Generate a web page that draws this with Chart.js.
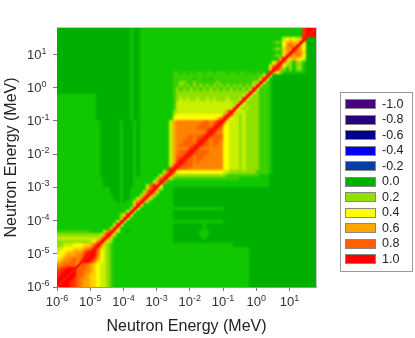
<!DOCTYPE html>
<html>
<head>
<meta charset="utf-8">
<style>
  html, body { margin: 0; padding: 0; background: #fff; }
  canvas { display: block; }
</style>
<script src="https://cdn.jsdelivr.net/npm/chart.js@4/dist/chart.umd.min.js"></script>
</head>
<body>
<canvas id="chart" width="415" height="338"></canvas>
<script>
const axisTitle = 'Neutron Energy (MeV)';
const tickExponents = [-6, -5, -4, -3, -2, -1, 0, 1];
const axisMin = 1e-6;
const axisMax = 63;

// the matrix diagonal, correlation 1 from end to end
const diagonalEnergies = [1e-6, 63];

const legendValues = ['-1.0', '-0.8', '-0.6', '-0.4', '-0.2', '0.0', '0.2', '0.4', '0.6', '0.8', '1.0'];
const legendColors = ['#48007f', '#24007f', '#00008f', '#0000f0', '#00409f', '#00b000', '#90e000', '#ffff00', '#ffa500', '#ff6000', '#ff0000'];

// colour ramp for the positive part of the matrix
const rampValues = [0, 0.05, 0.2, 0.4, 0.6, 0.8, 1];
const rampColors = [[0, 176, 0], [16, 200, 0], [144, 224, 0], [255, 255, 0], [255, 165, 0], [255, 96, 0], [255, 0, 0]];

// correlation, 10 cells per decade, top row first
// . = 0, - = 0.05, digit = tenths, X = 1.0
const cellsPerDecade = 10;
const cellCodes = { '.': 0, '-': 0.05, '1': 0.1, '2': 0.2, '3': 0.3, '4': 0.4, '5': 0.5, '6': 0.6, '7': 0.7, '8': 0.8, '9': 0.9, 'X': 1 };
const cellRows = [
  '.......... .......... ..-..----- ---------- ---------- ---------- ---------- ----9XXX',
  '.......... .......... ..-..----- ---------- ---------- ---------- ---------- ----9XXX',
  '.......... .......... ..-..----- ---------- ---------- ---------- ---------- ----9XXX',
  '.......... .......... ..-..----- ---------- ---------- ---------- --------34 5435X...',
  '.......... .......... ..-..----- ---------- ---------- ---------- -----12146 765X5...',
  '.......... .......... ..-..----- ---------- ---------- ---------- --------47 86X64...',
  '.......... .......... ..-..----- ---------- ---------- ---------- -----12157 6X864...',
  '.......... .......... ..-..----- ---------- ---------- ---------- --------55 X8775...',
  '.......... .......... ..-..----- ---------- ---------- ---------- -----1215X 86874...',
  '.......... .......... ..-..----- ---------- ---------- ---------- -------6X5 56543...',
  '.......... .......... ..-..----- ---------- ---------- ---------- -----47X73 2-22-...',
  '.......... .......... ..-..----- ---------- ---------- ---------- ----37X942 2-22-...',
  '.......... .......... ..-..----- ---------- ---------- ---------- ----5X972- 2-22-...',
  '.......... .......... ..-..----- -----11-1- 1-11-11-11 1-11-11-1- 1-1-X642-- -----...',
  '.......... .......... ..-..----- -----11111 1111111111 1111111111 113X3..... ........',
  '.......... .......... ..-..----- -----11111 1-11-1-111 1111111111 13X3-..... ........',
  '.......... .......... ..-..----- -----11221 1211111121 1111111112 3X31-..... ........',
  '.......... .......... ..-..----- -----11212 1212121212 1212121213 X311-..... ........',
  '.......... .......... ..-..----- -----12121 2121212121 212121213X 3111-..... ........',
  '.......... .......... ..-..----- -----12222 2222222222 22222223X3 2111-..... ........',
  '---------- --........ ..-..----- -----12222 2222222222 2222223X32 2111-..... ........',
  '---------- --........ ..-..----- -----12323 2232232322 232223X322 2111-..... ........',
  '---------- --........ ..-..----- -----13333 3333333333 33323X3222 2111-..... ........',
  '---------- --........ ..-..----- -----13333 3333333333 3333X33222 2111-..... ........',
  '---------- --........ ..-..----- -----13333 3333333333 333X332322 2111-..... ........',
  '---------- --........ ..-..----- -----23333 3333333333 37X6333222 2111-..... ........',
  '---------- --........ ..-..----- -----34444 4444444444 8X83323222 2111-..... ........',
  '---------- --........ ..-..----- -----44444 4444444458 X843323222 2111-..... ........',
  '---------- ---......- ...-.----- ----367777 777788789X 8433323222 2111-..... ........',
  '---------- ---......- ...-.----- ----367777 77788879X9 4433323222 2111-..... ........',
  '---------- ---......- ...-.----- ----367777 7788889X98 4433323222 2111-..... ........',
  '---------- ---......- ...-.----- ----367777 777779X977 4433323222 2111-..... ........',
  '---------- ---......- ...-.----- ----367777 87889X9888 4433323222 2111-..... ........',
  '---------- ---......- ...-.----- ----367778 8789X97888 4433323222 2111-..... ........',
  '---------- ---......- ...-.----- ----367788 879X987887 4433323222 2111-..... ........',
  '---------- ---......- ...-.----- ----367888 89X9887877 4433323222 2111-..... ........',
  '---------- ---......- ...-.----- ----367777 9X97777777 4433323222 2111-..... ........',
  '---------- ---......- ...-.----- ----367889 X988887777 4433323222 2111-..... ........',
  '---------- ---......- ...-.----- ----36889X 9788877777 4433323222 2111-..... ........',
  '---------- ---......- ...-.----- ----3689X9 8788777777 4433323222 2111-..... ........',
  '---------- ---......- ...-.----- ----369X98 8787777777 4433323222 2111-..... ........',
  '---------- ---......- ...-.----- ----39X988 8777777777 4433323222 2111-..... ........',
  '---------- ---......- ...-.----- ----9X9888 7777777777 4433323222 2111-..... ........',
  '---------- ---......- ...-.----- --38X84444 4444444444 3322222222 1111-..... ........',
  '---------- ---......- ...-.----- -38X832222 2222222222 2111111111 1---...... ........',
  '---------- ----.....- ...------- 38X8311111 1111111111 11111----- ----...... ........',
  '---------- ----.....- ...------3 7X71------ ---------- ---------- ----...... ........',
  '---------- ----.....- ...----38X 83-------- ---------- ---------- ----...... ........',
  '---------- ------...- ..-----38X 83---..... .......... .......... .......... ........',
  '---------- ------...- ..----38X8 3----..... .......... .......... .......... ........',
  '---------- -------..- ..---37X73 -----..... .......... .......... .......... ........',
  '---------- -------..- ..--37X73- -----..... .......... .......... .......... ........',
  '---------- --------.- .--37X73-- -----..... .......... .......... .......... ........',
  '---------- ---------- ---5X5---- -----..... .......... .......... .......... ........',
  '---------- ---------- --3X3----- ---------- ---------- .......... .......... ........',
  '---------- ---------- -3X3------ -----..... .......... .......... .......... ........',
  '---------- ---------2 5X5------- -----..... .......... .......... .......... ........',
  '---------- ---------3 X3-------- -----..... .......... .......... .......... ........',
  '---------- --------3X 3--------- ---------- ---------- .......... .......... ........',
  '---------- -------3X3 ---------- -----..... ....-..... .......... .......... ........',
  '---------- ------5X5- ---------- -----..... ....-..... .......... .......... ........',
  '1111111111 ----37X73- -.-------- -----..... ...---.... .......... .......... ........',
  '2222222222 22237X73-- ---------- -----..... ...---.... .......... .......... ........',
  '3333333333 3337X73--- ---------- -----..... ....-..... .......... .......... ........',
  '2222222222 347X732--- ---------- -----..... .......... .......... .......... ........',
  '2233344455 68X7321--- ---------- ---------- ---------- ---....... .......... ........',
  '3344455567 8X85321--- ---------- ---------- ---------- --------.. .......... ........',
  '3445566689 XX84321--- ---------- ---------- ---------- --------.. .......... ........',
  '445666779X XX74321--- ---------- ---------- ---------- --------.. .......... ........',
  '45677878XX X964321--- ---------- ---------- ---------- --------.. .......... ........',
  '56778879XX 9754321--- ---------- ---------- ---------- --------.. .......... ........',
  '7788887887 6543321--- ---------- ---------- ---------- --------.. .......... ........',
  '899XXX8887 6543321--- ---------- ---------- ---------- --------.. .......... ........',
  '99XXXX8877 6543321--- ---------- ---------- ---------- --------.. .......... ........',
  '9XXXXX8876 5543321--- ---------- ---------- ---------- --------.. .......... ........',
  'XXXXX98776 5543321--- ---------- ---------- ---------- --------.. .......... ........',
  'XXXX998766 5543321--- ---------- ---------- ---------- --------.. .......... ........',
  'XXXX998766 5543321--- ---------- ---------- ---------- --------.. .......... ........'
];

function rampColor(v) {
  let i = 0;
  while (i < rampValues.length - 2 && v > rampValues[i + 1]) i++;
  const t = (v - rampValues[i]) / (rampValues[i + 1] - rampValues[i]);
  const c = rampColors[i].map((a, k) => Math.round(a + (rampColors[i + 1][k] - a) * t));
  return `rgb(${c[0]},${c[1]},${c[2]})`;
}

// one point per cell, at the lower left corner of the cell
const cells = [];
cellRows.forEach((row, r) => {
  const chars = row.replace(/ /g, '');
  const rowIndex = cellRows.length - 1 - r;
  for (let c = 0; c < chars.length; c++) {
    cells.push({
      x: 10 ** (c / cellsPerDecade - 6),
      y: 10 ** (rowIndex / cellsPerDecade - 6),
      x2: 10 ** ((c + 1) / cellsPerDecade - 6),
      y2: 10 ** ((rowIndex + 1) / cellsPerDecade - 6),
      v: cellCodes[chars[c]]
    });
  }
});

const heatmapPlugin = {
  id: 'heatmap',
  beforeDatasetsDraw(chart) {
    const { ctx, chartArea: area, scales } = chart;
    const off = document.createElement('canvas');
    off.width = chart.width;
    off.height = chart.height;
    const g = off.getContext('2d');
    chart.data.datasets[0].data.forEach(p => {
      const x0 = Math.floor(scales.x.getPixelForValue(p.x));
      const x1 = Math.ceil(scales.x.getPixelForValue(p.x2));
      const y0 = Math.floor(scales.y.getPixelForValue(p.y2));
      const y1 = Math.ceil(scales.y.getPixelForValue(p.y));
      g.fillStyle = rampColor(p.v);
      g.fillRect(x0, y0, x1 - x0, y1 - y0);
    });
    ctx.save();
    ctx.beginPath();
    ctx.rect(area.left, area.top, area.right - area.left, area.bottom - area.top);
    ctx.clip();
    ctx.drawImage(off, 0, 0);
    ctx.filter = 'blur(1px)'; // the reference is a soft, upscaled raster
    ctx.drawImage(off, 0, 0);
    ctx.restore();
    // thin pale frame on the open sides
    ctx.save();
    ctx.strokeStyle = '#c8c8c8';
    ctx.lineWidth = 1;
    ctx.beginPath();
    ctx.moveTo(area.left, area.top - 0.5);
    ctx.lineTo(area.right + 0.5, area.top - 0.5);
    ctx.lineTo(area.right + 0.5, area.bottom);
    ctx.stroke();
    ctx.restore();
  }
};

const labelsPlugin = {
  id: 'decadeLabels',
  afterDraw(chart) {
    const { ctx, scales } = chart;
    ctx.save();
    ctx.fillStyle = '#333';
    ctx.textAlign = 'left';
    ctx.textBaseline = 'alphabetic';
    tickExponents.forEach(exp => {
      const value = 10 ** exp;
      ctx.font = '13px "Liberation Sans"';
      const baseWidth = ctx.measureText('10').width;
      ctx.font = '9px "Liberation Sans"';
      const expWidth = ctx.measureText(String(exp)).width;

      // x axis, centred under the tick
      const tx = scales.x.getPixelForValue(value) - (baseWidth + expWidth) / 2;
      ctx.font = '13px "Liberation Sans"';
      ctx.fillText('10', tx, 306);
      ctx.font = '9px "Liberation Sans"';
      ctx.fillText(String(exp), tx + baseWidth, 301);

      // y axis, left aligned
      const ty = scales.y.getPixelForValue(value) + 4;
      ctx.font = '13px "Liberation Sans"';
      ctx.fillText('10', 27, ty);
      ctx.font = '9px "Liberation Sans"';
      ctx.fillText(String(exp), 27 + baseWidth, ty - 5);
    });
    ctx.restore();
  }
};

const legendPlugin = {
  id: 'boxLegend',
  afterDraw(chart) {
    const { ctx } = chart;
    ctx.save();
    ctx.strokeStyle = '#999';
    ctx.lineWidth = 1;
    ctx.strokeRect(340.5, 92.5, 72, 179);
    ctx.font = '12.5px "Liberation Sans"';
    ctx.textBaseline = 'middle';
    legendValues.forEach((label, i) => {
      const y = 104 + i * 15.5;
      const top = Math.round(y - 4);
      ctx.fillStyle = legendColors[i];
      ctx.fillRect(346, top, 29, 8);
      ctx.strokeStyle = '#888';
      ctx.strokeRect(345.5, top - 0.5, 30, 9);
      ctx.fillStyle = '#222';
      ctx.fillText(label, 382, y + 0.5);
    });
    ctx.restore();
  }
};

function decadeAxis(fitSize) {
  return {
    type: 'logarithmic',
    min: axisMin,
    max: axisMax,
    border: { display: true, color: '#999', width: 1 },
    grid: { display: true, drawOnChartArea: false, drawTicks: true, tickLength: 4, color: '#777' },
    ticks: { display: false },
    title: {
      display: true,
      text: axisTitle,
      color: '#222',
      font: { family: 'Liberation Sans', size: 16 },
      padding: { top: 2, bottom: 2 }
    },
    afterBuildTicks(scale) {
      scale.ticks = tickExponents.map(exp => ({ value: 10 ** exp }));
    },
    afterFit(scale) {
      if (scale.isHorizontal()) scale.height = fitSize;
      else scale.width = fitSize;
    }
  };
}

new Chart(document.getElementById('chart'), {
  type: 'scatter',
  data: {
    datasets: [
      { label: 'Correlation', data: cells, pointRadius: 0, pointHoverRadius: 0 },
      {
        label: 'Diagonal',
        data: diagonalEnergies.map(e => ({ x: e, y: e })),
        showLine: true,
        borderColor: '#ff1400',
        borderWidth: 2.4,
        pointRadius: 0,
        pointHoverRadius: 0
      }
    ]
  },
  options: {
    responsive: false,
    animation: false,
    events: [],
    layout: { padding: { top: 28, right: 99, bottom: 0, left: 0 } },
    plugins: {
      legend: { display: false },
      tooltip: { enabled: false }
    },
    scales: {
      x: decadeAxis(51),
      y: decadeAxis(57)
    }
  },
  plugins: [heatmapPlugin, labelsPlugin, legendPlugin]
});
</script>
</body>
</html>
